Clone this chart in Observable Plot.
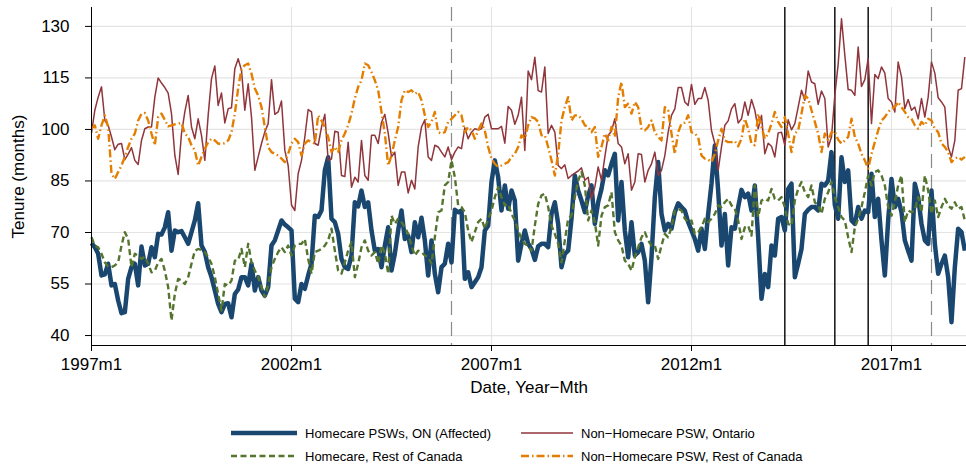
<!DOCTYPE html>
<html><head><meta charset="utf-8">
<script src="https://cdn.jsdelivr.net/npm/d3@7"></script>
<script src="https://cdn.jsdelivr.net/npm/@observablehq/plot@0.6"></script>
<style>
body{margin:0;background:#fff;font-family:"Liberation Sans",Arial,sans-serif;}
#wrap{position:relative;width:966px;height:468px;overflow:hidden;background:#fff;}
#chart{position:absolute;left:0;top:0;}
.leg{position:absolute;font-size:13px;color:#000;display:flex;align-items:center;white-space:nowrap;height:16px;}
.leg svg{margin-right:8px;}
</style></head><body><div id="wrap"><div id="chart"></div><div id="legend"></div></div>
<script>
// Months since 1997m1 (index 0 = 1997m1), monthly values
const tickMonths = [0, 60, 120, 180, 240];
const tickLabels = ["1997m1", "2002m1", "2007m1", "2012m1", "2017m1"];
const yTicks = [40, 55, 70, 85, 100, 115, 130];
const dashedEvents = [108, 252];
const solidEvents = [208, 223, 233];

const seriesNames = ["Homecare PSWs, ON (Affected)", "Non\u2212Homecare PSW, Ontario", "Homecare, Rest of Canada", "Non\u2212Homecare PSW, Rest of Canada"];

const homecareON = [
66.9,65.7,63.8,57.5,57.8,60.9,54.6,55,50.2,46.5,
46.8,56.5,59.9,60.9,54.6,65.9,60.4,60.9,65.7,62.8,
69.6,69.4,71.5,75.9,64.7,70.6,70.1,70.4,68.6,66.7,
70.1,73.5,78.5,66.2,64.3,59.9,57,53.1,49.2,46.8,
49.2,49.4,45.3,52.1,53.4,57,57,54.6,60.9,53.1,
57,53.1,51.6,54.1,66.2,67.7,70.6,73.5,72.3,71.5,
70.6,50.7,49.7,55,53.6,57.5,60.9,74.9,74.5,76.4,
88.1,91.9,74,73,69.6,62.3,59.9,59.4,63.3,78.8,
77.6,82.2,77.4,78.8,70.6,64.7,65.2,59.9,66.2,71.5,
58.9,63.8,70.6,76.4,68.1,69.1,64.3,73,68.6,74.3,
67.7,57.5,67.7,58,52.6,59.9,60.9,66.7,61.3,76.6,
75.9,76.4,56.5,58.4,54.1,55.5,57,59.9,70.6,72,
84.7,91,86.1,76.4,83.7,76.9,82.2,79.3,61.8,66.7,
70.6,66.7,65.2,62,66,66.7,66.7,65.7,75.4,78.8,
72.5,59.9,63.8,64.7,74,86.6,82.2,79.3,75.9,80.8,
83.7,72.5,78.8,82.7,88.1,86.6,90,92.9,73.5,84.7,
70.6,62.8,73,63.3,64.3,66.7,61.8,49.7,62.8,80.3,
90.5,75.4,70.6,72.5,71.1,75.9,78.5,77.4,76.4,73,
70.6,68.1,64.7,71.1,65.2,75.4,84.2,95.3,82.2,66.2,
75.4,60.4,71.5,71.1,77.4,82.4,80.3,81.3,76.4,83.7,
68.6,50.7,57.9,54.1,66.2,63.3,74,74.5,70.6,82.7,
84.2,57,60.9,65.2,75.4,76.6,77.4,77.4,76.4,84.2,
83.7,85.1,93.4,78,74,91.9,84.7,88.1,73.5,72.5,
77.4,74,76.4,75.9,87.1,74.5,79.8,67.7,57.5,73.5,
85.6,77.4,79.8,75.9,67.7,64.7,61.8,84.2,80.3,72.5,
67.7,66.7,82.2,66.7,58,60.9,63.3,57,43.9,59.9,
71.1,70.1,64.7];

const nonHomecareON = [
99,105.6,109.4,112.4,102.6,101.2,97.8,94.1,95.7,95.9,
91.2,92.8,94.7,91,89.8,96.8,100.2,100.7,100.7,109.4,
115,113.5,112.2,110.6,104.6,92.5,86.9,98.8,105.1,109.9,
100.7,97.3,103.1,98.3,91,104.1,114.8,118.5,107,110.6,
101.9,106,106.3,117.7,120.6,117.2,105.6,113.3,103.6,88.1,
92,95.9,99.3,101.7,114.5,104.4,105.1,108.3,93.9,89.5,
78,76.4,87.1,91,97.8,105.8,105.1,95.9,95.4,100.7,
104.4,91,91.4,99.5,99.2,86.6,86.3,96.3,83.2,86.1,
84.7,96.8,86.6,85.2,98.3,98.3,95.9,102.1,104.4,99,
92,93.4,83.7,87.6,87.6,81.5,85.2,82.7,94.9,100.7,
102.8,92,91,95.4,94.9,93.4,92,94.9,91.2,93.4,
94.9,94.4,100.5,97.3,99.2,100.2,99.9,100.2,103.6,104.4,
100.2,100.2,100.2,100.9,96,106.7,105.6,101.5,104.1,109.4,
93.9,117,114.5,121,111.3,110.9,118.2,98.8,101.2,99.2,
89.5,88.6,89.7,85.7,86.6,87.3,87.9,88.8,85.2,86.1,
79.8,83.2,89.1,85.2,92,98.3,99.5,103.1,95.9,94.9,
90,92.9,82.3,84.7,92.9,92.7,84.7,88.1,90,93.4,
86.6,88.1,92.4,99.2,104.1,106,112.2,112.2,108,107,
113.1,107.3,109,109,112.2,108.5,99.7,95.9,88.1,94.9,
101.2,102.5,106,107.5,101.9,103.1,108,104.1,108.7,105.6,
100.2,104.1,92.9,96,95.1,92,99,99.2,95.4,102.8,
99.9,101.7,106.5,111.4,108.5,117,113.8,113.3,107.3,111.2,
109,94.9,97.8,110,119,132.2,121.6,111.6,111.4,109.9,
124,112.5,114.5,120.6,101.7,116,114.8,118.2,116.4,109,
108,105.1,119.6,115.3,106,108.7,105.6,106.5,103.1,109,
103.6,109.4,119.6,116.4,109.2,108,106.5,94.9,92,96.8,
111.4,111.9,121.1];

const homecareRoC = [
68.6,66.2,65.7,63.8,61.3,60.1,59.9,60.4,61.3,66.2,
70.1,68.1,59.9,63.8,63.3,62.3,63,60.9,58.4,58.9,
61.3,62.3,58.9,54.1,44.4,52.1,56.5,56,55,57,
60.9,64.7,65.2,64.9,64.3,62.8,60.9,57,52.1,47.3,
55,54.6,56,61.8,62,65.2,59.9,66.7,61.3,58.9,
57,54.1,51.2,54.6,59.9,62.3,64.3,65.7,64.3,66.2,
63.3,66.2,66.7,66.7,68.1,62.3,58,64.3,64.7,65.2,
66.2,67.7,71.1,64.7,58.9,58,61.3,64.7,67.2,57,
60.9,65.7,67.7,64.7,63.3,64.3,60.9,66.2,64,58,
74.9,72.5,74,73,71.5,69.6,66.2,63.3,64.7,64.3,
63.3,62.8,60.9,68.6,75.9,76.4,83.7,84.7,91,86.1,
77.9,77.4,75.9,70.6,67.2,70.1,73,74,71.1,74,
76.4,80.3,83.2,80.3,77.9,78.3,75.4,73.5,70.6,68.1,
66.7,66.2,64.7,72,78.3,80.8,81.3,77.4,72,69.6,
66.7,61.3,67.7,74,74.9,80.3,85.1,87.6,83.7,73.5,
76.4,73,66.2,74.9,77.4,77.9,81.7,70.1,67.7,66.2,
61.8,60.9,58.9,62.8,65.7,68.6,70.1,67.7,66.2,66.2,
62.3,66.2,69.6,68.6,71.5,76.4,76.9,76.4,74,73,
73.5,69.6,70.1,71.5,74,73,74,75.4,77.9,77.4,
78.8,79.8,77.9,76.9,73.5,68.1,71.5,72,69.1,83.7,
74.5,79.3,79.8,79.3,82.7,79.8,79.3,80.3,77.4,72.5,
72,79.3,82.7,84.7,81.7,80.3,83.7,78.8,77.9,75.4,
79.8,81.7,84.7,80.3,77.4,74.5,73.5,68.6,64.3,71.5,
74,77.4,81.7,86.6,83.7,87.6,88.1,86.6,83.7,77.4,
74.9,78.8,83.7,86.6,73,76.4,75.9,76.4,80.3,75.9,
86.6,82.2,75.4,79.3,74.5,77.4,79.8,77.9,76.9,78.8,
76.9,77.4,73.5];

const nonHomecareRoC = [
100.2,101.2,97.3,101.2,104.1,100.7,87.1,85.6,87.6,89.5,
92,94.9,97.3,98.8,102.6,104.6,104.8,102.6,98.8,95.4,
103.6,104.6,102.8,100.9,101.2,101.5,101.7,101.9,98.8,97.8,
95.4,93.9,89.5,92,94.4,96.3,97.3,96.8,95.9,95.7,
96,96.8,99.2,104.6,112,117.7,118.7,119.2,116.2,111.9,
109.9,106.5,100.7,94.9,93.4,92.9,92.4,91.5,90.5,92.9,
95.9,97.3,96.3,92.4,95.9,96.8,96.3,95.9,104.1,102.6,
100.7,97.8,93.4,94.9,93.4,96.8,98.8,101.2,104.6,109,
112.4,114.3,119.2,118.7,116.7,114.3,111.4,105.1,98.8,89.5,
92.4,96.8,100.7,108.5,111.4,110.9,111.4,110.4,110.9,108.5,
104.1,100.7,102.2,105.1,99.2,98.8,99.2,102.2,103.1,104.1,
105.1,104.1,99.2,100.7,99.7,97.3,99.7,101.7,99.7,94.9,
91.5,90,89.1,89.5,90,90.5,92,92.9,94.9,98.3,
97.3,101.2,103.6,103.2,102.2,98.3,98.3,94.9,91,86.6,
92.9,102.6,106.5,109.4,102.6,104.1,104.1,103.1,101.2,100.7,
99.2,100.7,92,94.9,98.8,96.8,100.7,97.8,109.4,113.8,
106.5,107.5,104.6,108,106.5,100.2,99.7,100.7,102.6,99.2,
97.8,96.8,106.5,105.6,98.8,92.9,99.2,101.7,102,104.1,
99.2,98.8,97.8,92.4,91.5,91.2,90.5,92.9,96.8,100.2,
96.8,96.3,96.3,96.6,95.1,97.3,103.1,100.2,95.9,95.4,
104.6,100.7,97.3,98.8,101.7,105.1,102.2,100.7,103.6,98.8,
93.4,98.8,99.7,104.6,109.9,109,105.6,102.2,98.8,93.4,
98.8,96.8,99.2,99.5,97,95.9,96.8,97.8,103.1,97.8,
95.9,92.9,91,88.6,92.9,96.3,99.7,102.6,103.6,105.1,
106,106.5,108,106.5,105.1,103.6,103.1,101.2,100.2,102.2,
101.2,103.1,102.6,100.2,99.2,95.9,94.9,93.4,90.5,91.5,
92,91.2,92];

const colors = ["#1a476f", "#90353b", "#55752f", "#e37e00"];
const widths = [4.5, 1.5, 2.4, 2.4];
const dashes = [null, null, "6,3.5", "8,3,1.5,3"];
const allSeries = [homecareON, nonHomecareON, homecareRoC, nonHomecareRoC];

const lineMarks = allSeries.map((vals, k) =>
  Plot.lineY(vals.map((v, i) => ({m: i, v})), {
    x: "m", y: "v", stroke: colors[k], strokeWidth: widths[k],
    strokeDasharray: dashes[k] || undefined, strokeLinejoin: "round", strokeLinecap: "butt"
  })
);

const chart = Plot.plot({
  width: 966, height: 400,
  marginLeft: 91, marginRight: 0, marginTop: 7, marginBottom: 55,
  x: {domain: [0, 262.5]},
  y: {domain: [37.1, 135.5]},
  style: {fontFamily: "'Liberation Sans', Arial, sans-serif", fontSize: "16px", color: "#000", background: "#fff", overflow: "visible"},
  marks: [
    Plot.gridY(yTicks, {stroke: "#e4e4e4", strokeOpacity: 1, strokeWidth: 1.2}),
    Plot.gridX(tickMonths, {stroke: "#e4e4e4", strokeOpacity: 1, strokeWidth: 1.2}),
    Plot.ruleX(dashedEvents, {stroke: "#8a8a8a", strokeDasharray: "14,7", strokeWidth: 1.2}),
    Plot.ruleX(solidEvents, {stroke: "#000", strokeWidth: 1.4}),
    ...lineMarks,
    Plot.axisY(yTicks, {tickSize: 6, tickPadding: 16, fontSize: 17, label: "Tenure (months)", labelAnchor: "center", labelOffset: 80, labelArrow: "none"}),
    Plot.axisX(tickMonths, {tickFormat: d => tickLabels[tickMonths.indexOf(d)], tickSize: 6, tickPadding: 6, fontSize: 17, label: "Date, Year\u2212Mth", labelAnchor: "center", labelOffset: 47, labelArrow: "none"}),
    Plot.ruleX([0], {stroke: "#000", strokeWidth: 1}),
    Plot.ruleY([37.1], {stroke: "#000", strokeWidth: 1})
  ]
});
document.getElementById("chart").appendChild(chart);

// Legend (two rows, two columns)
const legPos = [[231, 425], [521, 425], [231, 448], [521, 448]];
const legSampleW = [66, 52, 66, 52];
const legend = document.getElementById("legend");
seriesNames.forEach((name, k) => {
  const d = document.createElement("div");
  d.className = "leg";
  d.style.left = legPos[k][0] + "px";
  d.style.top = legPos[k][1] + "px";
  const w = legSampleW[k];
  d.innerHTML = `<svg width="${w}" height="12"><line x1="0" x2="${w}" y1="6" y2="6" stroke="${colors[k]}" stroke-width="${widths[k]}" ${dashes[k] ? `stroke-dasharray="${dashes[k]}"` : ""}/></svg><span>${name}</span>`;
  legend.appendChild(d);
});
</script></body></html>
